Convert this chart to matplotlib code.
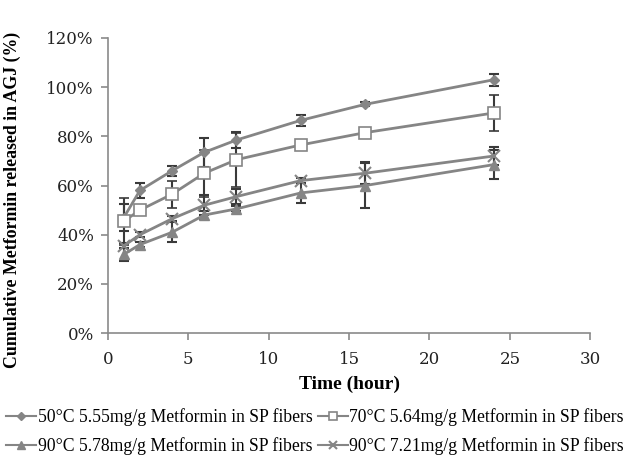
import numpy as np
import matplotlib
matplotlib.use('Agg')
import matplotlib.pyplot as plt
from matplotlib.ticker import FuncFormatter
from matplotlib.lines import Line2D

plt.rcParams['font.family'] = ['Liberation Serif', 'DejaVu Serif']

# 数据
time_h = [1, 2, 4, 6, 8, 12, 16, 24]

labels = [
    '50°C 5.55mg/g Metformin in SP fibers',
    '70°C 5.64mg/g Metformin in SP fibers',
    '90°C 5.78mg/g Metformin in SP fibers',
    '90°C 7.21mg/g Metformin in SP fibers',
]

rel_50 = [47, 58, 66, 73.5, 78.5, 86.5, 93, 103]
err_50 = [5.5, 3, 2, 6, 3.3, 2.3, 0.8, 2.5]

rel_70 = [45.5, 50, 56.5, 65, 70.5, 76.5, 81.5, 89.5]
err_70 = [9.5, 1.5, 5.5, 9.5, 11, 1, 1, 7.5]

rel_90a = [32, 36, 41, 48, 50.5, 57, 60, 68.5]
err_90a = [2.5, 1, 4, 1.5, 1, 4, 9, 6]

rel_90b = [35.5, 40, 46.5, 52, 55.5, 62, 65, 72]
err_90b = [1, 1, 1, 4, 3, 1, 4.5, 3.5]

series = [rel_50, rel_70, rel_90a, rel_90b]
errors = [err_50, err_70, err_90a, err_90b]

line_c = '#858585'
err_c = '#3a3a3a'
markers = [
    dict(marker='D', markersize=5.5, markerfacecolor=line_c, markeredgecolor=line_c),
    dict(marker='s', markersize=8, markerfacecolor='white', markeredgecolor=line_c, markeredgewidth=1.2),
    dict(marker='^', markersize=7.5, markerfacecolor=line_c, markeredgecolor=line_c),
    dict(marker='x', markersize=8, markeredgecolor=line_c, markeredgewidth=1.5),
]

fig = plt.figure(figsize=(6.3, 4.57), dpi=100)
ax = fig.add_axes([0.171, 0.271, 0.766, 0.646])

for vals, errs, lab, mk in zip(series, errors, labels, markers):
    ax.errorbar(time_h, vals, yerr=errs, color=line_c, linewidth=2,
                ecolor=err_c, elinewidth=1.5, capsize=3.5, capthick=1.5,
                label=lab, zorder=3, **mk)

ax.set_xlim(0, 30)
ax.set_ylim(0, 120)
ax.set_xticks(np.arange(0, 31, 5))
ax.set_yticks(np.arange(0, 121, 20))
ax.yaxis.set_major_formatter(FuncFormatter(lambda v, p: f'{int(v)}%'))

for s in ['top', 'right']:
    ax.spines[s].set_visible(False)
for s in ['left', 'bottom']:
    ax.spines[s].set_color('#8a8a8a')
    ax.spines[s].set_linewidth(1.2)
ax.tick_params(axis='both', colors='#8a8a8a', labelcolor='#222222',
               length=5, width=1.2, direction='out')
ax.tick_params(axis='y', pad=5)
ax.tick_params(axis='x', pad=8)
for t in ax.get_xticklabels() + ax.get_yticklabels():
    t.set_family(['DejaVu Serif'])
    t.set_fontsize(12)

ax.set_xlabel('Time (hour)', fontsize=14, fontweight='bold')
ax.xaxis.set_label_coords(0.5, -0.145)
ax.set_ylabel('Cumulative Metformin released in AGJ (%)', fontsize=12.8,
              fontweight='bold')
ax.yaxis.set_label_coords(-0.18, 0.45)

# 图例: 行优先排列
leg_handles = [Line2D([], [], color=line_c, linewidth=1.5,
                      **{k: (v * 0.7 if k == 'markersize' else v) for k, v in mk.items()})
               for mk in markers]
order = [0, 2, 1, 3]
fig.legend([leg_handles[i] for i in order], [labels[i] for i in order],
           loc='lower center', bbox_to_anchor=(0.5, -0.03),
           ncol=2, frameon=False, fontsize=12.7, handlelength=1.7,
           handletextpad=0.1, columnspacing=0.3, labelspacing=0.6)

plt.savefig('out.png', dpi=100, facecolor='white')
